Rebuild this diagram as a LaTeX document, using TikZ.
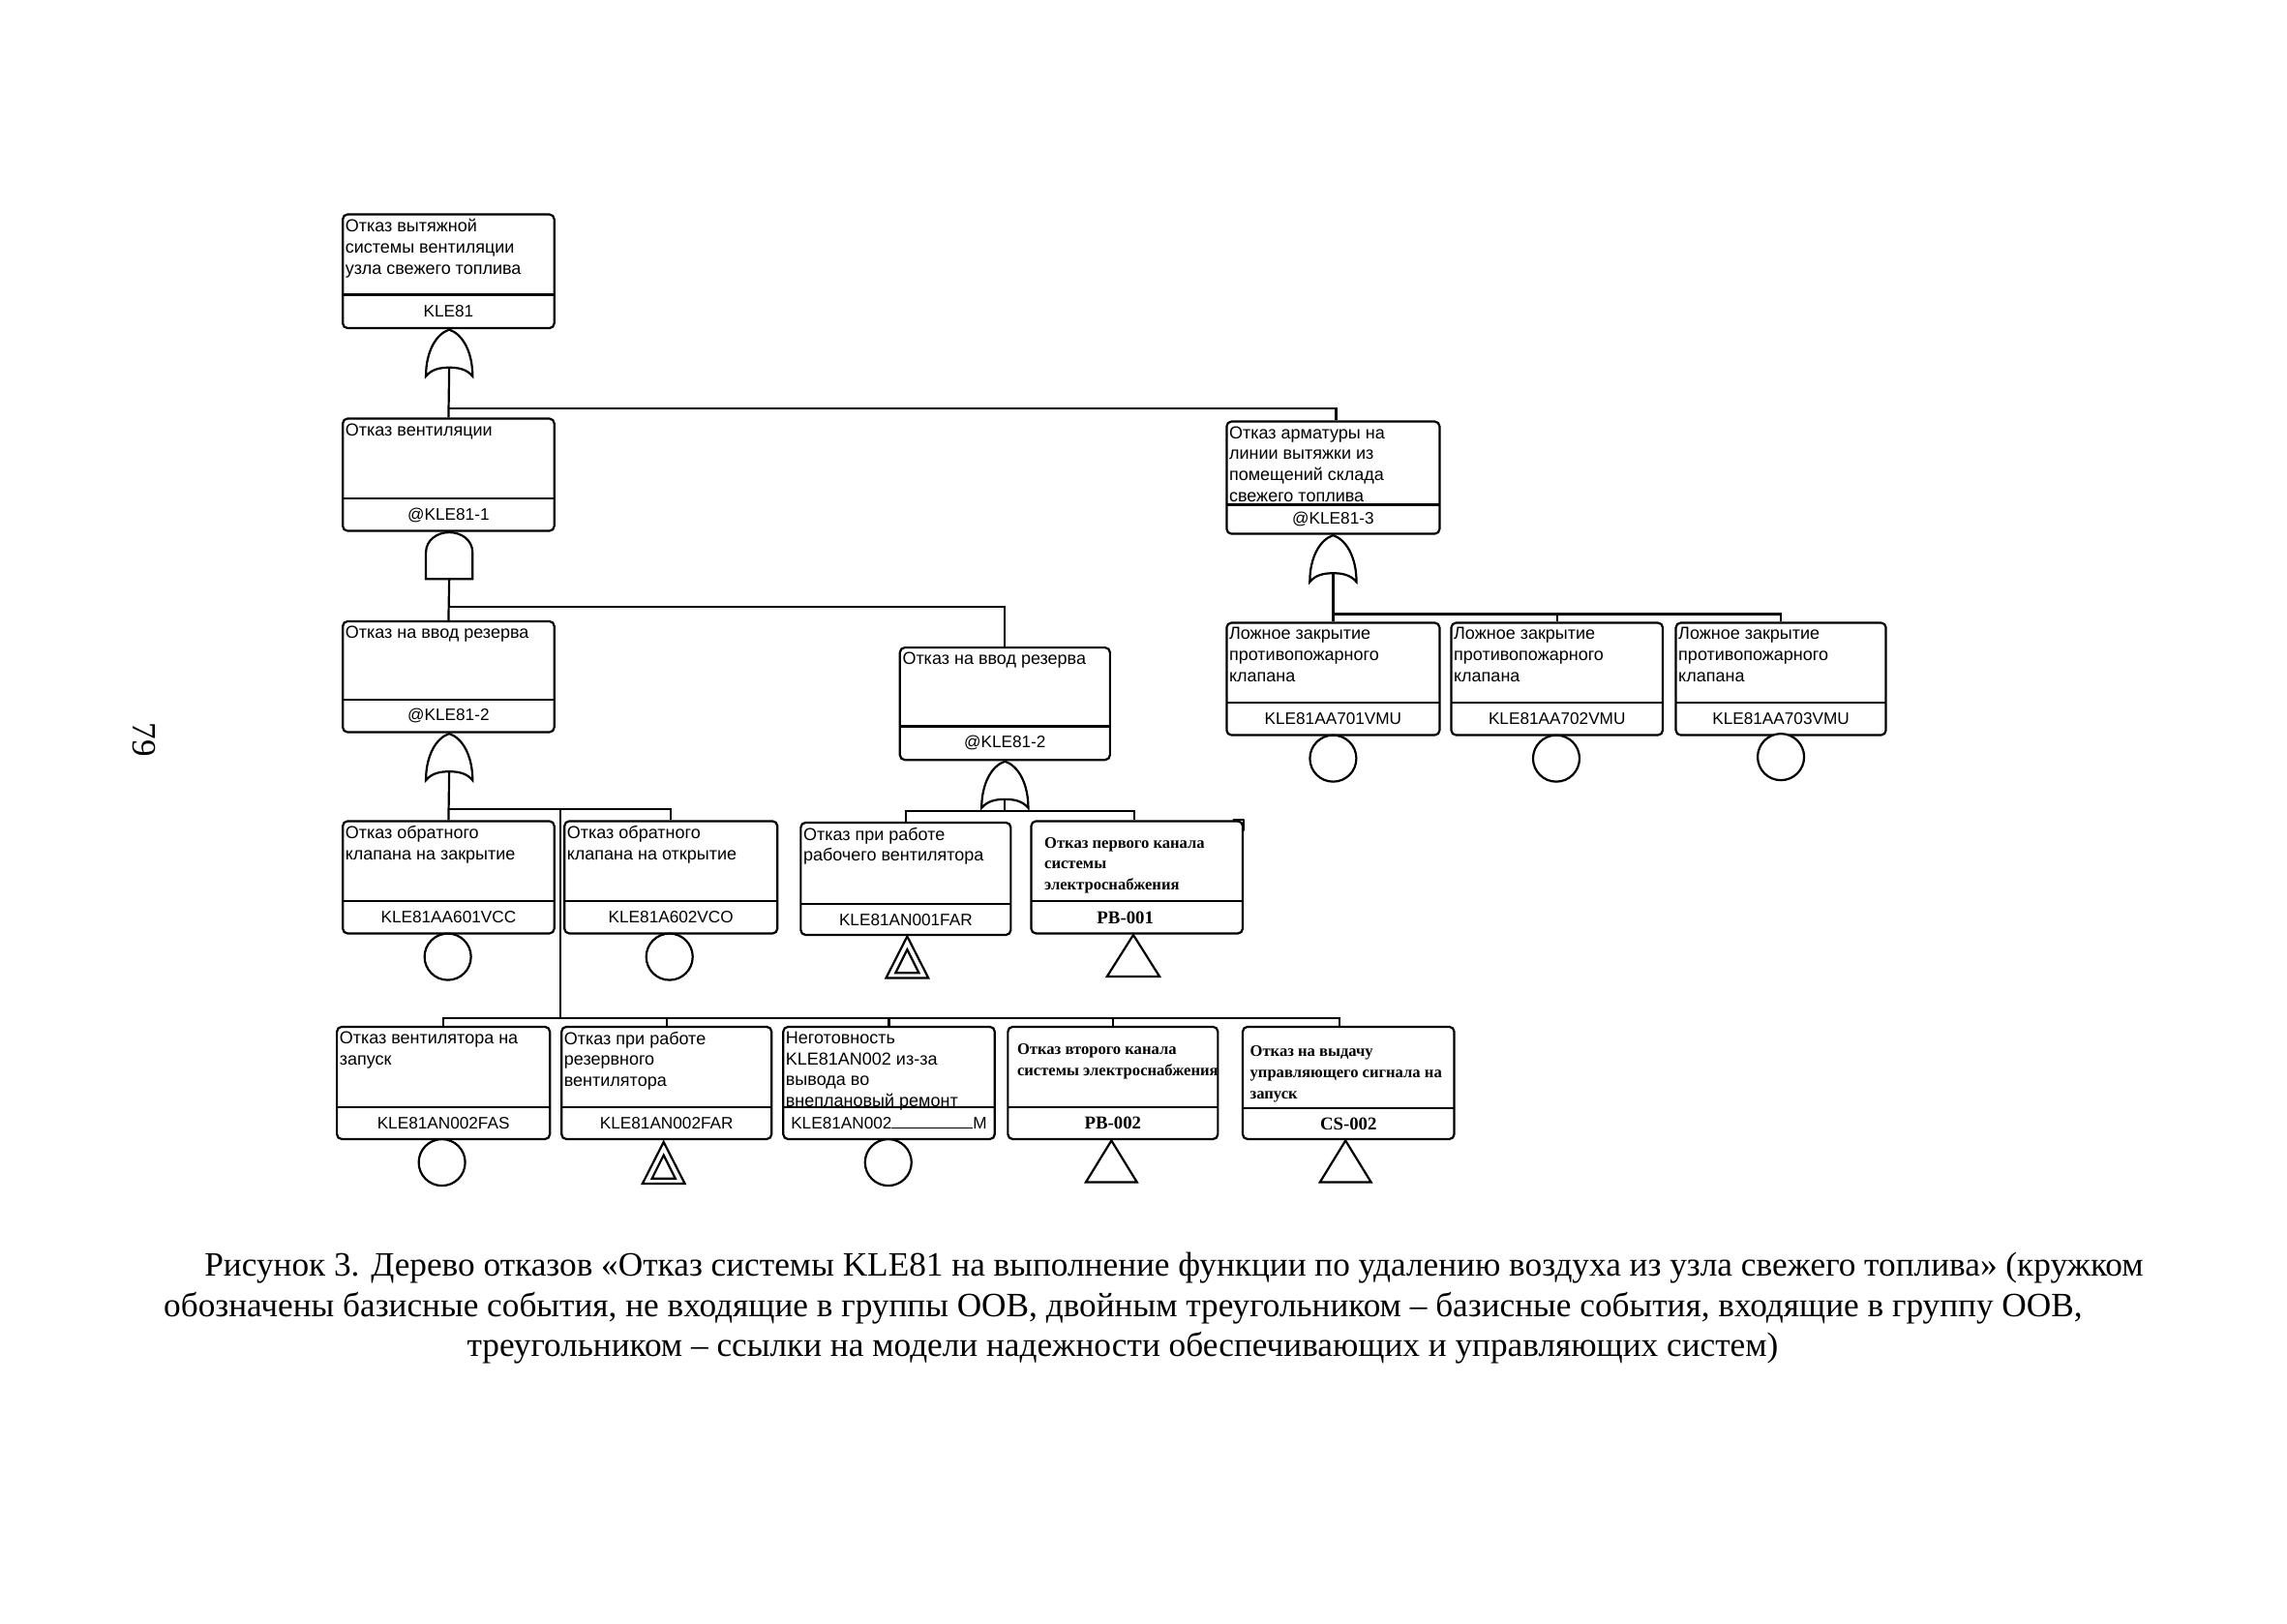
\documentclass[tikz,border=0pt]{standalone}
\usepackage{fontspec}
\setmainfont{Liberation Serif}
\newfontfamily\boxfont{Liberation Sans}
\newfontfamily\bdfont{Liberation Serif}
\usetikzlibrary{calc}
\newcommand{\bd}[1]{{\bdfont\bfseries\fontsize{8.3}{10.9}\selectfont #1}}
\newcommand{\bdc}[1]{\raisebox{-1.5pt}{\bdfont\bfseries\fontsize{9.4}{10.9}\selectfont #1}}
\tikzset{
  ln/.style={line width=1.1pt,black},
  evframe/.style={draw,line width=1.1pt,rounded corners=2.5pt,inner sep=0pt,fill=white},
  evtext/.style={anchor=north west,inner sep=0pt,font=\boxfont\fontsize{9}{10.9}\selectfont,align=left},
  evcode/.style={inner sep=0pt,font=\boxfont\fontsize{8.6}{10}\selectfont},
  gatebox/.style={minimum width=24pt,minimum height=24pt,inner sep=0pt},
  symb/.style={draw,line width=1.1pt,circle,minimum size=24pt,inner sep=0pt,fill=white},
  capt/.style={anchor=base west,inner sep=0pt,font=\fontsize{17.63}{20}\selectfont}
}
% name, x1, x2, y1, y2, ydiv, text, code
\newcommand{\evbox}[8]{%
  \path let \p1=(#2,#4), \p2=(#3,#5), \n1={\x2-\x1}, \n2={\y1-\y2} in
    node[evframe,minimum width=\n1,minimum height=\n2] (#1) at ($(#2,#4)!.5!(#3,#5)$) {};
  \draw[ln] (#2,#6) -- (#3,#6);
  \node[evtext] (#1t) at (#2+1.5,#4+3) {#7};
  \node[evcode] (#1c) at ($(#2,#6)!.5!(#3,#5)$) {#8};
}
\newcommand{\orgate}[3]{% name, cx, top
  \node[gatebox,anchor=north] (#1) at (#2,#3) {};
  \draw[ln,fill=white,shift={(#1.north)}] (0,0) .. controls (9,3) and (16,15) .. (16,32)
    .. controls (12,27) and (6,26) .. (0,26) coordinate (#1i)
    .. controls (-6,26) and (-12,27) .. (-16,32)
    .. controls (-16,15) and (-9,3) .. (0,0) -- cycle;
}
\newcommand{\andgate}[3]{%
  \node[gatebox,anchor=north] (#1) at (#2,#3) {};
  \draw[ln,fill=white,shift={(#1.north)}] (-16,32) -- (-16,14) .. controls (-16,5) and (-8,0) .. (0,0)
    .. controls (8,0) and (16,5) .. (16,14) -- (16,32) -- cycle;
  \coordinate (#1i) at (#1.south);
}
\newcommand{\cir}[3]{\node[symb] (#1) at (#2,#3) {};}
\newcommand{\tri}[4]{% name, cx, top, half width
  \node[gatebox,minimum height=21.5pt,anchor=north] (#1) at (#2,#3) {};
  \draw[ln,fill=white,shift={(#1.north)}] (0,0) -- (-#4,28.5) -- (#4,28.5) -- cycle;
}
\newcommand{\dtri}[3]{%
  \tri{#1}{#2}{#3}{14.5}
  \draw[ln,shift={(#1.north)}] (0,9) -- (-8,25) -- (8,25) -- cycle;
}
\begin{document}
\begin{tikzpicture}[x=0.75351pt,y=-0.75351pt]
\useasboundingbox[fill=white] (0,0) rectangle (1568,1113);

\evbox{a}{235}{380}{147}{225}{202}{Отказ вытяжной\\системы вентиляции\\узла свежего топлива}{KLE81}
\evbox{b}{235}{380}{287}{364}{342}{Отказ вентиляции}{@KLE81-1}
\evbox{c}{841}{987}{289}{366}{346}{Отказ арматуры на\\линии вытяжки из\\помещений склада\\свежего топлива}{@KLE81-3}
\evbox{d}{235}{380}{426}{502}{480}{Отказ на ввод резерва}{@KLE81-2}
\evbox{e}{617}{761}{444}{521}{498}{Отказ на ввод резерва}{@KLE81-2}
\evbox{f}{841}{987}{427}{504}{482}{Ложное закрытие\\противопожарного\\клапана}{KLE81AA701VMU}
\evbox{g}{995}{1140}{427}{504}{482}{Ложное закрытие\\противопожарного\\клапана}{KLE81AA702VMU}
\evbox{h}{1149}{1293}{427}{504}{482}{Ложное закрытие\\противопожарного\\клапана}{KLE81AA703VMU}
\evbox{i}{235}{380}{563}{640}{618}{Отказ обратного\\клапана на закрытие}{KLE81AA601VCC}
\evbox{j}{387}{533}{563}{640}{618}{Отказ обратного\\клапана на открытие}{KLE81A602VCO}
\evbox{k}{549}{693}{564}{641}{620}{Отказ при работе\\рабочего вентилятора}{KLE81AN001FAR}
\evbox{l}{707}{852}{563}{640}{618}{\\[0.5pt]\hspace*{5.5pt}\bd{Отказ первого канала}\\\hspace*{5.5pt}\bd{системы}\\\hspace*{5.5pt}\bd{электроснабжения}}{\bdc{PB-001}\hspace*{12pt}}
\evbox{m}{231}{377}{704}{781}{759}{Отказ вентилятора на\\запуск}{KLE81AN002FAS}
\evbox{n}{385}{529}{704}{781}{759}{Отказ при работе\\резервного\\вентилятора}{KLE81AN002FAR}
\evbox{o}{537}{682}{704}{781}{759}{Неготовность\\KLE81AN002 из-за\\вывода во\\внеплановый ремонт}{KLE81AN002\rule{42pt}{0.5pt}M}
\evbox{p}{691}{835}{704}{781}{759}{\\[1pt]\hspace*{3.5pt}\bd{Отказ второго канала}\\\hspace*{3.5pt}\bd{системы электроснабжения}}{\bdc{PB-002}}
\evbox{q}{852}{997}{704}{781}{760}{\\[2pt]\hspace*{2.5pt}\bd{Отказ на выдачу}\\\hspace*{2.5pt}\bd{управляющего сигнала на}\\\hspace*{2.5pt}\bd{запуск}}{\bdc{CS-002}}
\draw[ln,line cap=round,line join=round] ($(l.north east)+(-7,0)$) -- (l.north east) -- ($(l.north east)+(0,7)$);

\orgate{ga}{308}{226}
\andgate{gb}{308}{365}
\orgate{gc}{914}{367}
\orgate{gd}{308}{503}
\orgate{ge}{689}{522}

\coordinate (ba) at (308,280);
\coordinate (bb) at (308,416);
\coordinate (bc) at (914,421);
\coordinate (bd) at (308,555);
\coordinate (be) at (689,556);
\coordinate (bf) at (384,555);
\coordinate (bg) at (384,698);

\draw[ln] (gai) -- (b.north);
\draw[ln] (ba) -| ($(c.north)+(2,0)$);
\draw[ln] (gbi) -- (d.north);
\draw[ln] (bb) -| (e.north);
\draw[ln] (gci) -- (f.north);
\draw[ln] (bc) -| (g.north);
\draw[ln] (bc) -| (h.north);
\draw[ln] (gdi) -- (i.north);
\draw[ln] (bd) -| (j.north);
\draw[ln] (bf) -- (bg);
\draw[ln] (bg) -| (m.north);
\draw[ln] (bg) -| (n.north);
\draw[ln] (bg) -| (o.north);
\draw[ln] (bg) -| (p.north);
\draw[ln] (bg) -| ($(q.north)+(-6,0)$);
\draw[ln] (gei) -- (be);
\draw[ln] (be) -| (k.north);
\draw[ln] (be) -| ($(l.north)+(-2,0)$);

\cir{s1}{914}{520}
\cir{s2}{1067}{520}
\cir{s3}{1221}{519}
\cir{s4}{307}{656}
\cir{s5}{459}{656}
\cir{s6}{303}{797}
\cir{s7}{609}{797}
\dtri{t1}{622}{642}
\tri{t2}{777}{641}{18}
\dtri{t3}{455}{783}
\tri{t4}{762}{782}{17.5}
\tri{t5}{922.5}{782}{17.5}

\node[rotate=-90,font=\fontsize{17.6}{20}\selectfont,inner sep=0pt] (pg) at (99,507) {79};

\node[capt] (c1) at (140,875) {Рисунок 3. Дерево отказов «Отказ системы KLE81 на выполнение функции по удалению воздуха из узла свежего топлива» (кружком};
\node[capt] (c2) at (112,903) {обозначены базисные события, не входящие в группы ООВ, двойным треугольником – базисные события, входящие в группу ООВ,};
\node[capt] (c3) at (320,930) {треугольником – ссылки на модели надежности обеспечивающих и управляющих систем)};
\end{tikzpicture}
\end{document}
